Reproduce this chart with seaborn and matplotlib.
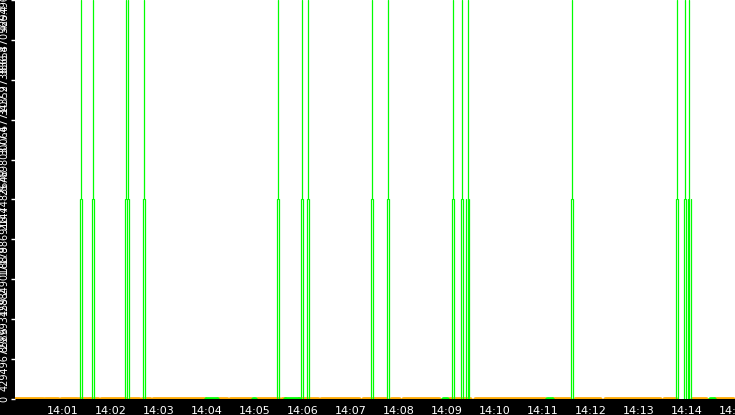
import pandas as pd
import matplotlib
matplotlib.use("Agg")
import matplotlib.pyplot as plt
import matplotlib.dates as mdates
import seaborn as sns

# dati: secondi dalle 14:00:00
inizio = pd.Timestamp("2024-01-01 14:00:00")
fine = pd.Timestamp("2024-01-01 14:15:00")

livello_medio = 2147483648
livello_max = 4294967296

# eventi (impulsi) - centro in secondi, larghezza della parte bassa e alta in secondi
evento_t = [84, 99, 141, 162, 330, 359, 367, 447, 467, 548, 559, 566, 696, 828, 838, 843]
larghezza_bassa = [2.5, 2.5, 5.0, 2.5, 2.5, 2.5, 2.5, 2.5, 2.5, 2.5, 2.5, 4.0, 2.5, 2.5, 2.5, 4.0]
larghezza_alta = [0, 0, 2.5, 0, 0, 0, 0, 0, 0, 0, 0, 0, 0, 0, 0, 0]

# linea di base arancione (segmenti visibili) e pezzetti verdi
arancio_da = [0, 39, 58, 81, 95, 108, 145, 159, 173, 254, 270, 303, 335, 356, 383, 435,
              471, 486, 543, 575, 673, 700, 738, 811, 846, 875]
arancio_a = [36, 55, 78, 93, 105, 139, 156, 169, 238, 266, 296, 331, 338, 379, 431, 464,
             481, 531, 569, 663, 694, 731, 806, 826, 864, 898]
verde_da = [240, 298, 338, 535, 665, 869]
verde_a = [253, 301, 356, 541, 671, 874]

y_ticks = [0, 429496729.6, 858993459.2, 1288490188.8, 1717986918.4, 2147483648,
           2576980377.6, 3006477107.2, 3435973836.8, 3865470566.4, 4294967296]
y_etichette = ["0", "429496729.6", "858993459.2", "1288490188.8", "1717986918.4", "2147483648",
               "2576980377.6", "3006477107.2", "3435973836.8", "3865470566.4", "4294967296"]


def secondi(s):
    return inizio + pd.to_timedelta(s, unit="s")


# costruzione dei segmenti verticali (un'unità per segmento)
righe = []
seg = 0
for t, wb, wa in zip(evento_t, larghezza_bassa, larghezza_alta):
    bordi_b = [t - wb / 2, t + wb / 2]
    if wb > 3:
        bordi_b.append(t)
    for x in bordi_b:
        righe.append((seg, secondi(x), 0))
        righe.append((seg, secondi(x), livello_medio))
        seg += 1
    bordi_a = [t] if wa == 0 else [t - wa / 2, t + wa / 2]
    for x in bordi_a:
        righe.append((seg, secondi(x), livello_medio))
        righe.append((seg, secondi(x), livello_max))
        seg += 1
df_impulsi = pd.DataFrame(righe, columns=["seg", "tempo", "valore"])

base = []
seg = 0
for a, b in zip(arancio_da, arancio_a):
    base.append((seg, secondi(a), 0, "orange"))
    base.append((seg, secondi(b), 0, "orange"))
    seg += 1
for a, b in zip(verde_da, verde_a):
    base.append((seg, secondi(a), 0, "green"))
    base.append((seg, secondi(b), 0, "green"))
    seg += 1
df_base = pd.DataFrame(base, columns=["seg", "tempo", "valore", "colore"])

palette = {"green": "#00ff00", "orange": "#ffaa00"}

sns.set_style("white")
plt.rcParams["font.family"] = ["DejaVu Sans"]

fig = plt.figure(figsize=(7.35, 4.15), dpi=100, facecolor="black")
ax = fig.add_axes([15 / 735, 16 / 415, 720 / 735, 399 / 415])
ax.set_facecolor("white")

sns.lineplot(data=df_base, x="tempo", y="valore", hue="colore", units="seg", estimator=None,
             palette=palette, linewidth=3.4, legend=False, sort=False, ax=ax)
sns.lineplot(data=df_impulsi, x="tempo", y="valore", units="seg", estimator=None,
             color="#00ff00", linewidth=0.9, legend=False, sort=False, ax=ax, snap=True)

ax.set_xlim(secondi(1), fine)
ax.set_ylim(0, livello_max)
ax.xaxis.set_major_locator(mdates.MinuteLocator())
ax.xaxis.set_major_formatter(mdates.DateFormatter("%H:%M"))
ax.set_yticks(y_ticks)
ax.set_yticklabels(y_etichette, rotation=90, va="center")
ax.tick_params(axis="x", colors="white", labelsize=8, length=4, width=1, pad=1, direction="out")
ax.tick_params(axis="y", colors="white", labelsize=7, length=3, width=1, pad=1, direction="out", left=True)
ax.set_xlabel("")
ax.set_ylabel("")
for s in ax.spines.values():
    s.set_visible(False)

fig.savefig("out.png", dpi=100, facecolor="black")
